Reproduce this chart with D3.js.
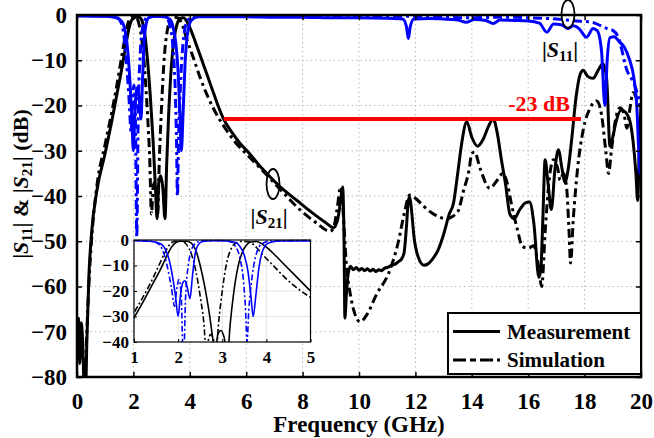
<!DOCTYPE html>
<html><head><meta charset="utf-8">
<script src="https://cdn.jsdelivr.net/npm/d3@7"></script>
<style>
body{margin:0;background:#fff}
svg{display:block}
text{font-family:"Liberation Serif","Times New Roman",serif;font-weight:bold;fill:#000}
</style>
</head><body>
<svg id="chart" width="654" height="438"></svg>
<script>
// |S21| measured, [GHz, dB]
const s21Measured = [
  [0,-73],[0.05,-67],[0.1,-77],[0.15,-68],[0.2,-72],[0.25,-82],[0.3,-84],[0.35,-72],[0.42,-58],[0.52,-48],
  [0.7,-39],[1.0,-30.5],[1.2,-24.5],[1.4,-18],[1.6,-11.5],[1.75,-6],[1.85,-2.8],[1.95,-1.0],[2.05,-0.5],
  [2.2,-0.5],[2.3,-1.2],[2.4,-4],[2.5,-10],[2.6,-18],[2.7,-28],[2.78,-38],[2.84,-45],[2.9,-37],[2.97,-35.5],
  [3.04,-38],[3.12,-45],[3.18,-33],[3.25,-22],[3.35,-11],[3.45,-5],[3.55,-2],[3.65,-0.8],[3.78,-0.6],
  [3.9,-1.5],[4.05,-3.5],[4.2,-6],[4.4,-9.5],[4.6,-13],[4.8,-16.5],[5.0,-20],[5.2,-23],[5.5,-26],
  [5.8,-28.5],[6.1,-30.5],[6.5,-33.5],[6.85,-35.8],[7.3,-38.5],[7.8,-41],[8.3,-43.5],[8.8,-45.8],
  [9.1,-47],[9.25,-45],[9.35,-41],[9.42,-38],[9.47,-50],[9.5,-67],[9.55,-62],[9.62,-57],[9.7,-55.5],
  [9.8,-56.3],[9.9,-55.8],[10.0,-56.4],[10.1,-56],[10.2,-56.5],[10.3,-56.1],[10.4,-56.6],[10.5,-56.2],
  [10.6,-56.7],[10.7,-56.3],[10.8,-56.5],[10.9,-56],[11.0,-55.8],[11.1,-55.5],[11.2,-55.2],[11.3,-55],
  [11.4,-54.5],[11.5,-54],[11.6,-52.5],[11.68,-47],[11.75,-41],[11.8,-40.2],[11.86,-43],[11.95,-49],
  [12.1,-53.5],[12.3,-55.3],[12.45,-55],[12.6,-54],[12.8,-52],[13.0,-48.5],[13.2,-44],[13.35,-41.6],
  [13.5,-35],[13.65,-28],[13.82,-23.6],[14.0,-27],[14.2,-29],[14.4,-27.5],[14.6,-24.5],[14.76,-23],
  [14.9,-26],[15.05,-32],[15.2,-37.5],[15.35,-44],[15.5,-45],[15.7,-43],[15.9,-41.5],[16.05,-41.3],
  [16.2,-46],[16.38,-58],[16.45,-56],[16.52,-45],[16.6,-32],[16.7,-37],[16.82,-43],[16.95,-34],
  [17.07,-29.8],[17.2,-34],[17.3,-37],[17.42,-34],[17.55,-27],[17.7,-18],[17.85,-13],[17.95,-12.2],
  [18.1,-13.5],[18.3,-14],[18.5,-12],[18.65,-10.8],[18.78,-14],[18.9,-29],[19.0,-27],[19.1,-24],
  [19.3,-21],[19.45,-21.5],[19.6,-23.3],[19.72,-28],[19.82,-35],[19.88,-41],[19.94,-30],[20,-19.6]
];

// |S21| simulated
const s21Simulated = [
  [0.28,-82],[0.35,-70],[0.45,-56],[0.55,-47],[0.7,-38],[1.0,-28.5],[1.2,-22.5],[1.4,-16],[1.55,-10.5],
  [1.7,-5],[1.8,-2],[1.9,-0.6],[2.0,-0.4],[2.1,-0.6],[2.2,-2],[2.3,-5.5],[2.4,-12],[2.5,-22],[2.58,-32],
  [2.64,-44],[2.7,-38],[2.75,-37],[2.8,-39],[2.86,-44],[2.92,-32],[3.0,-20],[3.1,-9],[3.2,-3.5],
  [3.3,-1.2],[3.45,-0.5],[3.6,-0.7],[3.75,-2.5],[3.9,-5.5],[4.1,-9],[4.36,-13.7],[4.6,-17.5],[5.0,-22.5],
  [5.2,-24.5],[5.6,-28],[6.13,-31.5],[6.6,-34.5],[7.2,-38.5],[7.9,-43],[8.5,-46],[8.97,-47.8],[9.1,-47],
  [9.22,-43],[9.35,-38],[9.42,-42],[9.55,-55],[9.7,-62],[9.85,-66],[10.04,-67.8],[10.3,-66],[10.6,-62],
  [11.1,-56.3],[11.4,-50],[11.6,-44],[11.8,-39.8],[12.0,-40.5],[12.3,-42.3],[12.6,-43.8],[13.1,-45],
  [13.5,-43.5],[13.7,-39],[13.9,-34.3],[14.0,-30.6],[14.1,-30.3],[14.3,-34],[14.64,-38.3],[14.9,-36.5],
  [15.1,-35],[15.25,-37],[15.4,-41.6],[15.6,-47],[15.8,-51.2],[16.0,-51.5],[16.2,-51],[16.35,-55],
  [16.48,-60],[16.6,-48],[16.75,-36],[16.9,-32],[17.05,-34],[17.13,-36.5],[17.25,-35],[17.36,-38],
  [17.45,-48],[17.5,-54.8],[17.6,-45],[17.75,-34],[17.95,-25.4],[18.2,-20.5],[18.43,-19],[18.6,-22],
  [18.75,-30],[18.85,-35],[18.95,-30],[19.1,-23],[19.26,-20.5],[19.4,-22],[19.5,-25],[19.6,-21],
  [19.72,-17.2],[19.85,-18.5],[20,-20.5]
];

// |S11| measured
const s11Measured = [
  [0,-0.2],[1.0,-0.3],[1.4,-0.6],[1.6,-1.5],[1.72,-4],[1.8,-8],[1.88,-15],[1.94,-22],[2.0,-30],[2.05,-22],
  [2.1,-17],[2.15,-16],[2.2,-18],[2.27,-23],[2.32,-15],[2.38,-6],[2.45,-2],[2.55,-0.6],[2.8,-0.3],
  [3.1,-0.4],[3.3,-1],[3.4,-2.5],[3.5,-6],[3.58,-12],[3.65,-22],[3.7,-30],[3.76,-22],[3.83,-11],
  [3.92,-4],[4.05,-1.2],[4.3,-0.4],[5,-0.4],[6,-0.4],[7,-0.5],[8,-0.5],[9,-0.6],[10,-0.6],[11,-0.7],
  [11.55,-0.9],[11.68,-2.5],[11.75,-5.2],[11.82,-2.5],[11.95,-0.9],[12.5,-0.8],[13,-0.9],[13.5,-1.1],
  [13.8,-1.6],[14.1,-1.0],[14.5,-1.2],[14.76,-1.9],[15,-1.1],[15.5,-1.2],[16,-1.3],[16.4,-1.8],
  [16.66,-3.8],[16.9,-2.0],[17.2,-2.2],[17.4,-3],[17.6,-2.4],[17.8,-3],[18.07,-4.9],[18.3,-3],
  [18.45,-3.5],[18.6,-8],[18.72,-20],[18.8,-10],[18.9,-5],[19.05,-4.8],[19.24,-6],[19.4,-7],
  [19.6,-10],[19.75,-14],[19.85,-20],[19.92,-30],[19.96,-35],[20,-28]
];

// |S11| simulated
const s11Simulated = [
  [0,-0.1],[1.0,-0.2],[1.4,-0.5],[1.55,-1.5],[1.65,-4],[1.75,-10],[1.85,-19],[1.92,-26],[1.97,-19],
  [2.02,-15.5],[2.07,-22],[2.12,-49],[2.17,-22],[2.23,-10],[2.3,-4],[2.4,-1.2],[2.55,-0.3],[3.0,-0.2],
  [3.2,-0.8],[3.3,-2.5],[3.4,-7],[3.48,-16],[3.53,-28],[3.56,-40],[3.6,-28],[3.68,-14],[3.78,-5],
  [3.9,-1.5],[4.1,-0.4],[5,-0.2],[9,-0.3],[12,-0.3],[13,-0.5],[14,-0.6],[15,-0.5],[16,-0.6],[17,-0.9],
  [17.84,-1.4],[18.2,-1.5],[18.55,-2.3],[18.8,-3],[19,-3.4],[19.2,-5],[19.5,-12.2],[19.7,-14.5],
  [19.8,-15.9],[19.9,-18],[20,-20]
];

const xTicks = [0,2,4,6,8,10,12,14,16,18,20];
const yTicks = [0,-10,-20,-30,-40,-50,-60,-70,-80];
const insetXTicks = [1,2,3,4,5];
const insetYTicks = [0,-10,-20,-30,-40];
const refLevel = -23;          // dB
const refSpan = [5.2, 17.87];  // GHz
const refLabel = "-23 dB";
const legendLabels = ["Measurement","Simulation"];
const xTitle = "Frequency (GHz)";

const svg = d3.select("#chart");
const L = 77, R = 641, T = 15, B = 377;
const x = d3.scaleLinear().domain([0,20]).range([L,R]);
const y = d3.scaleLinear().domain([-80,0]).range([B,T]);

const BLUE = "#0000ff";
const series = [
  {data:s21Measured, color:"#000", dash:null},
  {data:s21Simulated, color:"#000", dash:"9,4,3,4"},
  {data:s11Measured, color:BLUE, dash:null},
  {data:s11Simulated, color:BLUE, dash:"9,4,3,4"}
];

const defs = svg.append("defs");
defs.append("clipPath").attr("id","mainClip").append("rect")
  .attr("x",L).attr("y",T-2).attr("width",R-L).attr("height",B-T+2);

// grid
const grid = svg.append("g");
grid.selectAll(".gx").data(xTicks.slice(1,-1)).join("line")
  .attr("x1",d=>x(d)).attr("x2",d=>x(d)).attr("y1",T).attr("y2",B)
  .attr("stroke","#b8b8b8").attr("stroke-width",1).attr("stroke-dasharray","1.5,3");
grid.selectAll(".gy").data(yTicks.slice(1,-1)).join("line")
  .attr("y1",d=>y(d)).attr("y2",d=>y(d)).attr("x1",L).attr("x2",R)
  .attr("stroke","#b8b8b8").attr("stroke-width",1).attr("stroke-dasharray","1.5,3");

// curves
const line = d3.line().x(d=>x(d[0])).y(d=>y(d[1])).curve(d3.curveMonotoneX);
const curves = svg.append("g").attr("clip-path","url(#mainClip)");
series.forEach(s=>{
  curves.append("path").attr("d",line(s.data)).attr("fill","none")
    .attr("stroke",s.color).attr("stroke-width",3).attr("stroke-linejoin","round")
    .attr("stroke-dasharray",s.dash);
});

// reference level
svg.append("line").attr("x1",x(refSpan[0])).attr("x2",x(refSpan[1]))
  .attr("y1",y(refLevel)).attr("y2",y(refLevel))
  .attr("stroke","#ff0000").attr("stroke-width",4);
svg.append("text").attr("x",539).attr("y",111).attr("text-anchor","middle")
  .attr("font-size",22).style("fill","#ff0000").text(refLabel);

// axes
const axB = d3.axisBottom(x).tickValues(xTicks).tickSize(-5).tickPadding(16);
const axL = d3.axisLeft(y).tickValues(yTicks).tickSize(-5).tickPadding(10);
const axT = d3.axisTop(x).tickValues(xTicks).tickSize(-5).tickFormat("");
const axR = d3.axisRight(y).tickValues(yTicks).tickSize(-5).tickFormat("");
function styleAxis(g){
  g.select(".domain").remove();
  g.selectAll(".tick line").attr("stroke","#000").attr("stroke-width",1.5);
  g.selectAll("text").attr("font-size",23).attr("font-family","Liberation Serif").attr("font-weight","bold");
}
svg.append("g").attr("transform",`translate(0,${B})`).call(axB).call(styleAxis);
svg.append("g").attr("transform",`translate(${L},0)`).call(axL).call(styleAxis);
svg.append("g").attr("transform",`translate(0,${T})`).call(axT).call(styleAxis);
svg.append("g").attr("transform",`translate(${R},0)`).call(axR).call(styleAxis);
svg.append("rect").attr("x",L).attr("y",T).attr("width",R-L).attr("height",B-T)
  .attr("fill","none").attr("stroke","#000").attr("stroke-width",2.5);

// axis titles
svg.append("text").attr("x",(L+R)/2).attr("y",432).attr("text-anchor","middle")
  .attr("font-size",23).text(xTitle);
const yt = svg.append("text").attr("transform","translate(28,184) rotate(-90)")
  .attr("text-anchor","middle").attr("font-size",22);
function sParam(t, sub){
  t.append("tspan").text("|");
  t.append("tspan").attr("font-style","italic").text("S");
  t.append("tspan").attr("font-size",15).attr("dy",4).text(sub);
  t.append("tspan").attr("dy",-4).text("|");
}
sParam(yt,"11"); yt.append("tspan").text(" & "); sParam(yt,"21"); yt.append("tspan").text(" (dB)");

// annotations
const a11 = svg.append("text").attr("x",560).attr("y",57).attr("text-anchor","middle").attr("font-size",22);
sParam(a11,"11");
svg.append("ellipse").attr("cx",568).attr("cy",14).attr("rx",6.5).attr("ry",14)
  .attr("fill","none").attr("stroke","#000").attr("stroke-width",1.8);
const a21 = svg.append("text").attr("x",269).attr("y",224).attr("text-anchor","middle").attr("font-size",22);
sParam(a21,"21");
svg.append("ellipse").attr("cx",273).attr("cy",184).attr("rx",6.5).attr("ry",15)
  .attr("fill","none").attr("stroke","#000").attr("stroke-width",1.8);

// inset
const iL = 134, iR = 310.5, iT = 240, iB = 342;
const xi = d3.scaleLinear().domain([1,5]).range([iL,iR]);
const yi = d3.scaleLinear().domain([-40,0]).range([iB,iT]);
defs.append("clipPath").attr("id","insetClip").append("rect")
  .attr("x",iL).attr("y",iT-2).attr("width",iR-iL).attr("height",iB-iT+2);
const inset = svg.append("g");
inset.append("rect").attr("x",iL).attr("y",iT).attr("width",iR-iL).attr("height",iB-iT).attr("fill","#fff");
inset.selectAll(".igx").data(insetXTicks.slice(1,-1)).join("line")
  .attr("x1",d=>xi(d)).attr("x2",d=>xi(d)).attr("y1",iT).attr("y2",iB)
  .attr("stroke","#e4e4e4").attr("stroke-width",1);
inset.selectAll(".igy").data(insetYTicks.slice(1,-1)).join("line")
  .attr("y1",d=>yi(d)).attr("y2",d=>yi(d)).attr("x1",iL).attr("x2",iR)
  .attr("stroke","#e4e4e4").attr("stroke-width",1);
const iline = d3.line().x(d=>xi(d[0])).y(d=>yi(d[1])).curve(d3.curveMonotoneX);
const icurves = inset.append("g").attr("clip-path","url(#insetClip)");
series.forEach(s=>{
  icurves.append("path").attr("d",iline(s.data)).attr("fill","none")
    .attr("stroke",s.color).attr("stroke-width",1.6)
    .attr("stroke-dasharray",s.dash ? "6,2.5,2,2.5" : null);
});
inset.append("rect").attr("x",iL).attr("y",iT).attr("width",iR-iL).attr("height",iB-iT)
  .attr("fill","none").attr("stroke","#000").attr("stroke-width",1.2);
function styleInset(g){
  g.select(".domain").remove();
  g.selectAll(".tick line").attr("stroke","#000");
  g.selectAll("text").attr("font-size",17).attr("font-family","Liberation Serif").attr("font-weight","bold");
}
inset.append("g").attr("transform",`translate(0,${iB})`)
  .call(d3.axisBottom(xi).tickValues(insetXTicks).tickFormat(d3.format("d")).tickSize(-3).tickPadding(9))
  .call(styleInset);
inset.append("g").attr("transform",`translate(${iL},0)`)
  .call(d3.axisLeft(yi).tickValues(insetYTicks).tickFormat(d3.format("d")).tickSize(-3).tickPadding(5))
  .call(styleInset);

// legend
const lg = svg.append("g");
lg.append("rect").attr("x",448).attr("y",313).attr("width",R-448).attr("height",61)
  .attr("fill","#fff").attr("stroke","#000").attr("stroke-width",2);
legendLabels.forEach((lab,i)=>{
  const yy = 331.5 + i*28.5;
  lg.append("line").attr("x1",453).attr("x2",500).attr("y1",yy).attr("y2",yy)
    .attr("stroke","#000").attr("stroke-width",3).attr("stroke-dasharray",i ? "13,4,6,4" : null);
  lg.append("text").attr("x",507).attr("y",yy+7).attr("font-size",21).text(lab);
});
</script>
</body></html>
